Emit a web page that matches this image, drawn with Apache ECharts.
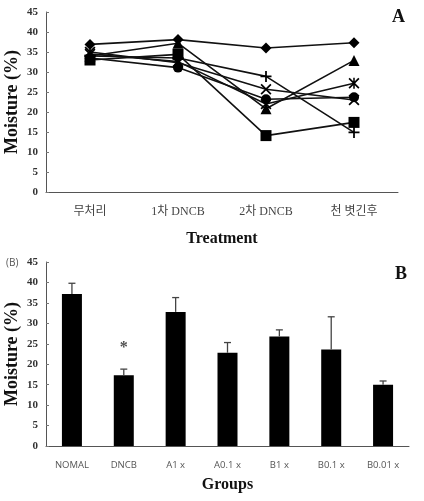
<!DOCTYPE html>
<html><head><meta charset="utf-8">
<script src="https://cdn.jsdelivr.net/npm/echarts@6/dist/echarts.min.js"></script>
<style>html,body{margin:0;padding:0;background:#fff}#c{width:424px;height:501px}</style>
</head><body><div id="c"></div>
<script>
// Panel A data
var treatments = ['무처리', '1차 DNCB', '2차 DNCB', '천 볏긴후'];
var sDiamond = [36.9, 38.1, 36.0, 37.3];
var sSquare = [33.0, 34.4, 14.1, 17.4];
var sTriangle = [34.0, 37.2, 20.8, 32.9];
var sCross = [35.0, 32.3, 25.7, 23.0];
var sStar = [34.5, 32.6, 22.0, 27.2];
var sCircle = [33.5, 31.1, 23.2, 23.7];
var sPlus = [34.0, 33.5, 28.9, 14.9];
// Panel B data
var groups = ['NOMAL', 'DNCB', 'A1 x', 'A0.1 x', 'B1 x', 'B0.1 x', 'B0.01 x'];
var moisture = [37.2, 17.3, 32.8, 22.8, 26.8, 23.6, 15.0];
var errUp = [2.6, 1.5, 3.5, 2.5, 1.6, 8.0, 0.9];
var sigMark = [null, 24.7, null, null, null, null, null];
var yTicks = [0, 5, 10, 15, 20, 25, 30, 35, 40, 45];

var serif = "'Liberation Serif','Times New Roman',serif";
var plusPath = 'path://M4.2,0h1.6v4.2h4.2v1.6h-4.2v4.2h-1.6v-4.2h-4.2v-1.6h4.2z';
var xPath = 'path://M1.1,0L5,3.9L8.9,0L10,1.1L6.1,5L10,8.9L8.9,10L5,6.1L1.1,10L0,8.9L3.9,5L0,1.1z';
var starPath = 'path://M1.1,0L4.3,3.2V0h1.4v3.2L8.9,0L10,1.1L6.1,5L10,8.9L8.9,10L5.7,6.8V10h-1.4V6.8L1.1,10L0,8.9L3.9,5L0,1.1z';

function lineSeries(data, symbol, size) {
  return {type: 'line', xAxisIndex: 0, yAxisIndex: 0, data: data, symbol: symbol, symbolSize: size,
    lineStyle: {color: '#111', width: 1.6}, itemStyle: {color: '#000'}, animation: false, z: 3};
}

function yAxis(gi) {
  return {type: 'value', gridIndex: gi, min: 0, max: 45, interval: 5,
    name: 'Moisture (%)', nameLocation: 'middle', nameGap: 25, nameRotate: 90, nameMoveOverlap: false,
    nameTextStyle: {fontFamily: serif, fontWeight: 'bold', fontSize: 18, color: '#111'},
    axisLine: {show: true, lineStyle: {color: '#555', width: 1}},
    axisTick: {show: true, inside: true, length: 3, lineStyle: {color: '#777'}},
    axisLabel: {fontFamily: serif, fontWeight: 'bold', fontSize: 11, color: '#333', margin: 8,
      formatter: function (v) { return yTicks.indexOf(v) >= 0 ? String(v) : ''; }},
    splitLine: {show: false}};
}

var chart = echarts.init(document.getElementById('c'), null, {renderer: 'canvas'});
chart.setOption({
  animation: false,
  grid: [
    {left: 46, right: 26, top: 12, height: 180, containLabel: false, outerBoundsMode: 'none'},
    {left: 46, right: 15, top: 262, height: 184, containLabel: false, outerBoundsMode: 'none'}
  ],
  xAxis: [
    {type: 'category', gridIndex: 0, data: treatments, boundaryGap: true,
      name: 'Treatment', nameLocation: 'middle', nameGap: 39, nameMoveOverlap: false,
      nameTextStyle: {fontFamily: serif, fontWeight: 'bold', fontSize: 16, color: '#111'},
      axisLine: {lineStyle: {color: '#555', width: 1}},
      axisTick: {inside: true, length: 4, lineStyle: {color: '#666'}},
      axisLabel: {fontFamily: "'Liberation Serif','Noto Sans CJK KR',serif", fontSize: 12, color: '#444', margin: 14}},
    {type: 'category', gridIndex: 1, data: groups, boundaryGap: true,
      name: 'Groups', nameLocation: 'middle', nameGap: 31, nameMoveOverlap: false,
      nameTextStyle: {fontFamily: serif, fontWeight: 'bold', fontSize: 16, color: '#111'},
      axisLine: {lineStyle: {color: '#555', width: 1}},
      axisTick: {inside: true, length: 3, lineStyle: {color: '#666'}},
      axisLabel: {fontFamily: "'Open Sans','Noto Sans',sans-serif", fontSize: 9.5, color: '#555', margin: 14}}
  ],
  yAxis: [yAxis(0), yAxis(1)],
  series: [
    lineSeries(sPlus, plusPath, 11),
    lineSeries(sCross, xPath, 11),
    lineSeries(sStar, starPath, 11),
    lineSeries(sCircle, 'circle', 10),
    lineSeries(sTriangle, 'triangle', 11),
    lineSeries(sSquare, 'rect', 11),
    lineSeries(sDiamond, 'diamond', 11),
    {type: 'bar', xAxisIndex: 1, yAxisIndex: 1, data: moisture, barWidth: 20,
      itemStyle: {color: '#000'}, z: 2},
    {type: 'custom', xAxisIndex: 1, yAxisIndex: 1, z: 3,
      data: moisture.map(function (v, i) { return [i, v, v + errUp[i]]; }),
      renderItem: function (params, api) {
        var b = api.coord([api.value(0), api.value(1)]);
        var t = api.coord([api.value(0), api.value(2)]);
        var style = {stroke: '#444', lineWidth: 1.3};
        return {type: 'group', children: [
          {type: 'line', shape: {x1: b[0], y1: b[1], x2: t[0], y2: t[1]}, style: style},
          {type: 'line', shape: {x1: t[0] - 3.5, y1: t[1], x2: t[0] + 3.5, y2: t[1]}, style: style}
        ]};
      }},
    {type: 'scatter', xAxisIndex: 1, yAxisIndex: 1, symbolSize: 0,
      data: sigMark.map(function (v, i) { return v == null ? null : [i, v]; }).filter(function (d) { return d; }),
      label: {show: true, position: 'inside', formatter: '*', fontFamily: serif, fontWeight: 'bold', fontSize: 16, color: '#222', offset: [0, 3]}}
  ],
  graphic: [
    {type: 'text', left: 392, top: 8, style: {text: 'A', font: "bold 18px 'Liberation Serif',serif", fill: '#111'}},
    {type: 'text', left: 395, top: 265, style: {text: 'B', font: "bold 18px 'Liberation Serif',serif", fill: '#111'}},
    {type: 'text', left: 6, top: 258, style: {text: '(B)', font: "10px 'Open Sans',sans-serif", fill: '#555'}}
  ]
});
</script></body></html>
